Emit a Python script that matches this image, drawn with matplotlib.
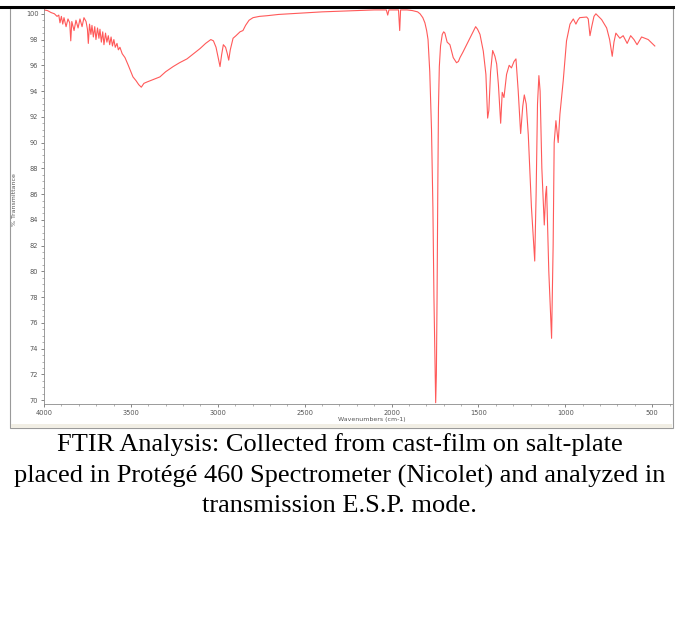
import matplotlib
matplotlib.use('Agg')
import matplotlib.pyplot as plt
from matplotlib.patches import Rectangle
from matplotlib.lines import Line2D

# ========== data ==========
wavenumber = [
    4000, 3980, 3960, 3940, 3925, 3915, 3908, 3900, 3892, 3885,
    3873, 3862, 3852, 3846, 3840, 3827, 3816, 3804, 3793, 3781,
    3770, 3758, 3750, 3745, 3738, 3730, 3724, 3716, 3708, 3701,
    3692, 3684, 3678, 3670, 3662, 3655, 3646, 3638, 3630, 3622,
    3614, 3606, 3598, 3590, 3580, 3572, 3563, 3550, 3534, 3515,
    3500, 3488, 3470, 3455, 3440, 3425, 3408, 3370, 3333, 3300,
    3257, 3220, 3177, 3140, 3102, 3070, 3040, 3025, 3010, 2998,
    2987, 2978, 2968, 2955, 2945, 2937, 2928, 2912, 2895, 2872,
    2855, 2840, 2820, 2797, 2760, 2717, 2650, 2527, 2400, 2300,
    2200, 2100, 2030, 2022, 2015, 1960, 1953, 1948, 1911, 1880,
    1850, 1836, 1820, 1808, 1798, 1790, 1780, 1770, 1762, 1756,
    1750, 1746, 1742, 1738, 1734, 1730, 1725, 1718, 1708, 1700,
    1693, 1680, 1664, 1645, 1626, 1615, 1606, 1590, 1568, 1539,
    1516, 1505, 1491, 1472, 1457, 1447, 1440, 1430, 1418, 1405,
    1395, 1385, 1372, 1363, 1353, 1345, 1338, 1323, 1310, 1295,
    1284, 1271, 1257, 1245, 1236, 1225, 1213, 1195, 1176, 1168,
    1160, 1152, 1145, 1135, 1121, 1113, 1108, 1095, 1079, 1070,
    1064, 1054, 1041, 1031, 1012, 993, 973, 954, 939, 928,
    917, 877, 868, 858, 848, 835, 824, 791, 762, 745,
    730, 720, 709, 686, 667, 644, 624, 605, 587, 561,
    523, 485,
]
transmittance = [
    100.3, 100.25, 100.1, 100.0, 99.8, 99.9, 99.3, 99.8, 99.2, 99.7,
    99.0, 99.6, 99.3, 97.9, 99.4, 98.7, 99.5, 98.9, 99.6, 99.0,
    99.7, 99.4, 98.8, 97.7, 99.2, 98.4, 99.1, 98.2, 99.0, 98.0,
    98.9, 98.1, 98.8, 97.8, 98.6, 97.6, 98.5, 97.8, 98.3, 97.6,
    98.2, 97.5, 98.0, 97.4, 97.7, 97.2, 97.4, 96.9, 96.6, 96.0,
    95.5, 95.1, 94.8, 94.5, 94.3, 94.6, 94.7, 94.9, 95.1, 95.5,
    95.9, 96.2, 96.5, 96.9, 97.3, 97.7, 98.0, 97.9, 97.4, 96.6,
    95.9, 96.8, 97.6, 97.4, 96.9, 96.4, 97.2, 98.1, 98.3, 98.6,
    98.7, 99.1, 99.5, 99.7, 99.8, 99.85, 99.95, 100.05, 100.15, 100.2,
    100.25, 100.3, 100.3, 99.9, 100.3, 100.3, 98.7, 100.3, 100.3, 100.25,
    100.15, 100.0, 99.7, 99.3, 98.7, 98.0, 95.5, 91.0, 85.0, 78.0,
    73.0, 69.8, 72.0, 78.0, 86.0, 92.7, 95.9, 97.5, 98.4, 98.6,
    98.5, 97.8, 97.6, 96.6, 96.2, 96.3, 96.6, 97.0, 97.6, 98.4,
    99.0, 98.8, 98.4, 97.1, 95.3, 91.9, 92.5, 95.5, 97.15, 96.7,
    96.1, 94.5, 91.5, 93.9, 93.5, 94.5, 95.3, 96.0, 95.8, 96.3,
    96.5, 94.0, 90.7, 92.8, 93.7, 93.0, 90.6, 85.0, 80.8, 86.0,
    93.0, 95.2, 94.0, 88.0, 83.6, 86.0, 86.6, 80.0, 74.8, 82.0,
    90.0, 91.7, 90.0, 92.2, 94.8, 97.9, 99.2, 99.6, 99.2, 99.5,
    99.7, 99.75, 99.6, 98.3, 99.0, 99.8, 100.0, 99.55, 98.9, 98.0,
    96.7, 97.8, 98.5, 98.1, 98.3, 97.7, 98.3, 98.0, 97.6, 98.2,
    98.0, 97.5,
]
x_ticks = [4000, 3500, 3000, 2500, 2000, 1500, 1000, 500]
y_ticks = list(range(70, 101, 2))

caption_lines = [
    "FTIR Analysis: Collected from cast-film on salt-plate",
    "placed in Protégé 460 Spectrometer (Nicolet) and analyzed in",
    "transmission E.S.P. mode.",
]
caption_y = [445, 476, 506]   # pixel centres of each caption line

# ========== figure ==========
W, H = 679, 641
fig = plt.figure(figsize=(W / 100, H / 100), dpi=100)

def fx(px):
    return px / W

def fy(py):
    return 1 - py / H

# frame round the instrument screenshot
fig.add_artist(Rectangle((fx(10), fy(428)), fx(663), 420 / H, transform=fig.transFigure,
                         facecolor='white', edgecolor='#9a9a9a', lw=0.8, zorder=0))
fig.add_artist(Rectangle((fx(11), fy(428)), fx(661), 4 / H, transform=fig.transFigure,
                         facecolor='#f1eee4', edgecolor='none', zorder=0))
fig.add_artist(Line2D([0, fx(673)], [fy(7), fy(7)], transform=fig.transFigure,
                      color='black', lw=2.2))

ax = fig.add_axes([fx(44), fy(404), fx(628), 396 / H])
ax.plot(wavenumber, transmittance, color='#ff3030', lw=0.8, alpha=0.8)

ax.set_xlim(4000, 386)
ax.set_ylim(69.7, 100.45)
ax.set_xticks(x_ticks)
ax.set_xticks(range(400, 4001, 100), minor=True)
ax.set_yticks(y_ticks)
ax.set_yticks([v / 2 for v in range(140, 201)], minor=True)
ax.tick_params(which='major', direction='out', length=2.5, width=0.5,
               labelsize=4.8, colors='#555555', pad=1.5)
ax.tick_params(which='minor', direction='out', length=1.2, width=0.4, colors='#777777')

for side in ['top', 'right']:
    ax.spines[side].set_visible(False)
for side in ['left', 'bottom']:
    ax.spines[side].set_color('#8a8a8a')
    ax.spines[side].set_linewidth(0.6)

fig.text(fx(15), fy(200), '% Transmittance', rotation=90, ha='center', va='center',
         fontsize=4.5, color='#555555')
fig.text(fx(372), fy(420), 'Wavenumbers (cm-1)', ha='center', va='center',
         fontsize=4.5, color='#555555')

for line, py in zip(caption_lines, caption_y):
    fig.text(0.5, fy(py), line, ha='center', va='center', family='Liberation Serif',
             fontsize=19, color='black')

fig.savefig('out.png', dpi=100)
